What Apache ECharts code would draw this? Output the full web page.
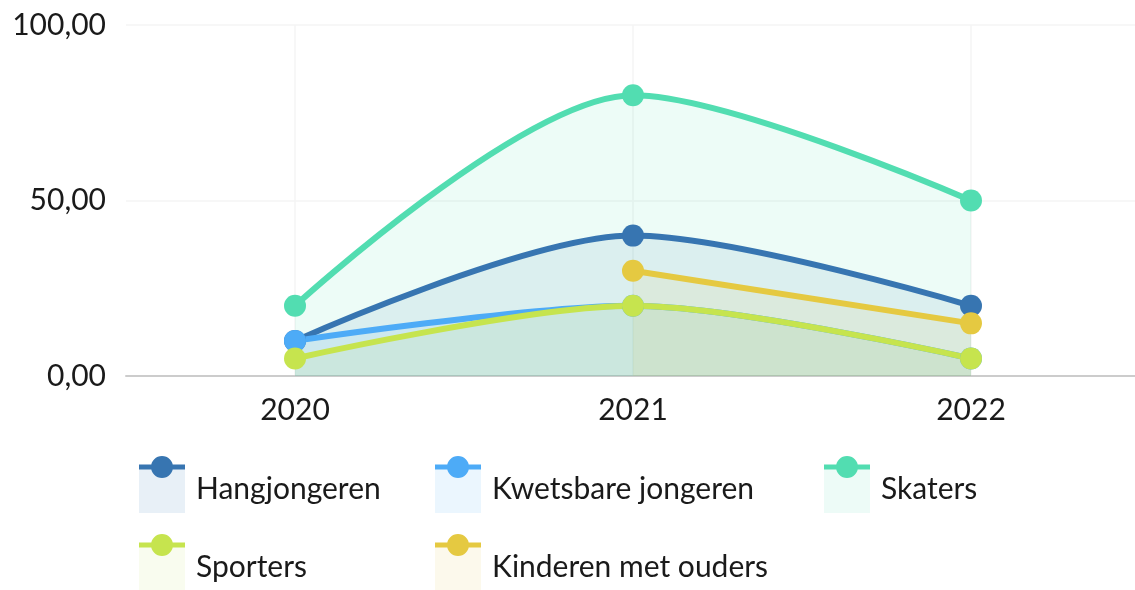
<!DOCTYPE html>
<html>
<head>
<meta charset="utf-8">
<script src="https://cdn.jsdelivr.net/npm/echarts@6/dist/echarts.min.js"></script>
<style>
html,body{margin:0;padding:0;background:#fff;}
#chart{width:1135px;height:590px;}
</style>
</head>
<body>
<div id="chart"></div>
<script>
// Data
const categories = ['2020', '2021', '2022'];
const seriesNames = ['Hangjongeren', 'Kwetsbare jongeren', 'Skaters', 'Sporters', 'Kinderen met ouders'];
const hangjongeren = [10, 40, 20];
const kwetsbareJongeren = [10, 20, 5];
const skaters = [20, 80, 50];
const sporters = [5, 20, 5];
const kinderenMetOuders = [null, 30, 15];
const yTicks = [0, 50, 100];

const seriesValues = [hangjongeren, kwetsbareJongeren, skaters, sporters, kinderenMetOuders];
const lineColors = ['#3775b1', '#4dabf7', '#52ddb1', '#c6e44e', '#e5c941'];
const fillColors = ['#e8f0f7', '#ebf6fe', '#edfbf7', '#f9fcef', '#fcf9ec'];

const legendPos = [[139, 0], [435, 0], [824, 0], [139, 1], [435, 1]];
const rowTops = [465, 543];

const font = 'Lato';
const chart = echarts.init(document.getElementById('chart'), null, {renderer: 'canvas'});

const legends = [];
seriesNames.forEach((name, i) => {
  const left = legendPos[i][0];
  const top = rowTops[legendPos[i][1]];
  legends.push({
    left: left, top: top, orient: 'horizontal', padding: 0,
    itemWidth: 46, itemHeight: 48, itemGap: 0,
    textStyle: {fontFamily: font, fontSize: 30, color: '#1a1a1a', padding: [0, 0, 0, 6]},
    data: [{name: name, icon: 'rect', itemStyle: {color: fillColors[i], borderWidth: 0}}],
    selectedMode: false
  });
  legends.push({
    left: left, top: top - 9, orient: 'horizontal', padding: 0,
    itemWidth: 46, itemHeight: 22, itemGap: 0,
    formatter: () => '',
    data: [{name: name, icon: 'path://M0,8.5 L46,8.5 L46,13.5 L0,13.5 Z M23,0 A11,11 0 1 1 23,22 A11,11 0 1 1 23,0 Z', itemStyle: {color: lineColors[i], borderWidth: 0}}],
    selectedMode: false
  });
});

const series = seriesNames.map((name, i) => ({
  name: name,
  type: 'line',
  data: seriesValues[i],
  smooth: 0.3,
  symbol: 'circle',
  symbolSize: 22,
  showSymbol: true,
  connectNulls: false,
  lineStyle: {width: 6, color: lineColors[i]},
  itemStyle: {color: lineColors[i]},
  areaStyle: {color: lineColors[i], opacity: 0.1},
  emphasis: {disabled: true}
}));

chart.setOption({
  animation: false,
  backgroundColor: '#ffffff',
  grid: {left: 126, width: 1014, top: 25, bottom: 214, containLabel: false, outerBoundsMode: 'none'},
  legend: legends,
  xAxis: {
    type: 'category',
    data: categories,
    boundaryGap: true,
    axisLine: {show: true, lineStyle: {color: '#cccccc', width: 2}},
    axisTick: {show: false},
    axisLabel: {fontFamily: font, fontSize: 30, color: '#1a1a1a', margin: 19},
    splitLine: {show: true, alignWithLabel: true, lineStyle: {color: '#f4f4f4', width: 1.5}}
  },
  yAxis: {
    type: 'value',
    min: yTicks[0],
    max: yTicks[yTicks.length - 1],
    interval: yTicks[1] - yTicks[0],
    axisLine: {show: false},
    axisTick: {show: false},
    axisLabel: {
      fontFamily: font, fontSize: 30, color: '#1a1a1a', margin: 20,
      formatter: v => v.toFixed(2).replace('.', ',')
    },
    splitLine: {show: true, lineStyle: {color: '#f4f4f4', width: 1.5}}
  },
  series: series
});
</script>
</body>
</html>
